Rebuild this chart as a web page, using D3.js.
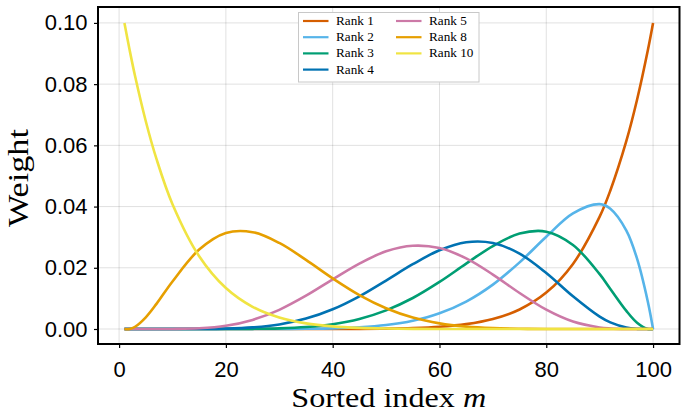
<!DOCTYPE html>
<html><head><meta charset="utf-8">
<script src="https://cdn.jsdelivr.net/npm/d3@7"></script>
<style>body{margin:0;background:#fff}</style>
</head><body><svg id="c" width="687" height="413"></svg>
<script>
// ---- data ----
const mIndex = [1,2,3,5,7,10,15,20,25,30,35,40,45,50,55,60,65,70,75,80,85,90,92,95,97,99,100];
const rank1  = [0,0,0,0,0,0,0,0,0,0.000001,0.000003,0.000012,0.000041,0.000119,0.000307,0.000726,0.001591,0.003273,0.006383,0.011885,0.021263,0.036712,0.045268,0.061448,0.074900,0.090909,0.100000];
const rank2  = [0,0,0,0,0,0,0,0.0000003,0.000003,0.000017,0.000068,0.000213,0.000562,0.001303,0.002703,0.005125,0.008949,0.014487,0.021760,0.030131,0.037770,0.040791,0.039269,0.032153,0.022981,0.009091,0];
const rank3  = [0,0,0,0,0,0,0.0000007,0.000009,0.000055,0.000217,0.000646,0.001571,0.003281,0.006081,0.010122,0.015375,0.021352,0.027105,0.031178,0.031805,0.027469,0.017908,0.013090,0.005913,0.002066,0,0];
const rank4  = [0,0,0,0,0,0.0000006,0.000017,0.000129,0.000524,0.001497,0.003392,0.006443,0.010678,0.015839,0.021158,0.025722,0.028347,0.028109,0.024606,0.018299,0.010682,0.004028,0.002156,0.000470,0.000054,0,0];
const rank5  = [0,0,0,0,0.000001,0.000019,0.000234,0.001064,0.002978,0.006269,0.010878,0.016202,0.021356,0.025378,0.027203,0.026437,0.023062,0.017788,0.011768,0.006306,0.002434,0.000504,0.000188,0.000016,0,0,0];
const rank8  = [0,0,0.000742,0.003830,0.008209,0.015535,0.025943,0.031370,0.031636,0.028110,0.022565,0.016533,0.011080,0.006787,0.003745,0.001842,0.000782,0.000276,0.000075,0.000014,0.0000015,0,0,0,0,0,0];
const rank10 = [0.100000,0.090909,0.082560,0.067878,0.055565,0.040791,0.023781,0.013392,0.007253,0.003756,0.001847,0.000854,0.000367,0.000145,0.000051,0.000016,0.000004,0,0,0,0,0,0,0,0,0,0];
const seriesNames  = ["Rank 1","Rank 2","Rank 3","Rank 4","Rank 5","Rank 8","Rank 10"];
const seriesValues = [rank1,rank2,rank3,rank4,rank5,rank8,rank10];
const seriesColors = ["#D55E00","#56B4E9","#009E73","#0072B2","#CC79A7","#E69F00","#F0E442"];
const xTicks = [0,20,40,60,80,100];
const yTicks = [0,0.02,0.04,0.06,0.08,0.10];
const xLabel = "Sorted index ";
const xLabelVar = "m";
const yLabel = "Weight";

// ---- drawing ----
const svg = d3.select("#c");
const L = 98, R = 679.5, T = 7, B = 344;
const x = d3.scaleLinear().domain([-3.95, 104.95]).range([L, R]);
const y = d3.scaleLinear().domain([-0.0049, 0.1052]).range([B, T]);
const sans = "'Liberation Sans', Arial, Helvetica, sans-serif";
const serif = "'Liberation Serif', 'Times New Roman', serif";

svg.append("rect").attr("width",687).attr("height",413).attr("fill","#fff");

// grid
const grid = svg.append("g").attr("stroke","rgba(0,0,0,0.12)").attr("stroke-width",1);
grid.selectAll(".gx").data(xTicks).enter().append("line")
  .attr("x1",d=>x(d)).attr("x2",d=>x(d)).attr("y1",T).attr("y2",B);
grid.selectAll(".gy").data(yTicks).enter().append("line")
  .attr("x1",L).attr("x2",R).attr("y1",d=>y(d)).attr("y2",d=>y(d));

// clip
svg.append("clipPath").attr("id","pc").append("rect")
  .attr("x",L).attr("y",T).attr("width",R-L).attr("height",B-T);

const line = d3.line().curve(d3.curveCatmullRom.alpha(0.5))
  .x((d,i)=>x(mIndex[i])).y(d=>y(d));
const lg = svg.append("g").attr("clip-path","url(#pc)");
seriesValues.forEach((vals,si)=>{
  lg.append("path").attr("d",line(vals)).attr("fill","none")
    .attr("stroke",seriesColors[si]).attr("stroke-width",2.6)
    .attr("stroke-linejoin","round").attr("stroke-linecap","butt");
});

// axes
const ax = svg.append("g").attr("transform",`translate(0,${B})`)
  .call(d3.axisBottom(x).tickValues(xTicks).tickFormat(d3.format("d")).tickSize(4).tickPadding(13));
const ay = svg.append("g").attr("transform",`translate(${L},0)`)
  .call(d3.axisLeft(y).tickValues(yTicks).tickFormat(d3.format(".2f")).tickSize(4).tickPadding(6.5));
[ax,ay].forEach(a=>{
  a.select(".domain").remove();
  a.selectAll(".tick line").attr("stroke","#000").attr("stroke-width",1.2);
  a.selectAll(".tick text").attr("font-family",sans).attr("font-size",22).attr("fill","#000");
});

// frame
svg.append("rect").attr("x",L).attr("y",T).attr("width",R-L).attr("height",B-T)
  .attr("fill","none").attr("stroke","#000").attr("stroke-width",2);

// axis labels
const xl = svg.append("text").attr("transform",`translate(${(L+R)/2},406.5) scale(1.15,1)`)
  .attr("text-anchor","middle").attr("font-family",serif).attr("font-size",28).attr("fill","#000");
xl.append("tspan").text(xLabel);
xl.append("tspan").attr("font-style","italic").text(xLabelVar);

svg.append("text").attr("transform",`translate(28,178) rotate(-90) scale(1.18,1)`)
  .attr("text-anchor","middle").attr("font-family",serif).attr("font-size",29).attr("fill","#000")
  .text(yLabel);

// legend
const leg = svg.append("g");
leg.append("rect").attr("x",298.5).attr("y",12.5).attr("width",180.5).attr("height",69.5)
  .attr("fill","#fff").attr("stroke","#c8c8c8").attr("stroke-width",1);
seriesNames.forEach((name,i)=>{
  const col = i < 4 ? 0 : 1;
  const row = i < 4 ? i : i-4;
  const lx = col===0 ? 303 : 396;
  const tx = col===0 ? 336 : 429;
  const ly = 21 + row*16.2;
  leg.append("line").attr("x1",lx).attr("x2",lx+25.5).attr("y1",ly).attr("y2",ly)
    .attr("stroke",seriesColors[i]).attr("stroke-width",2.2);
  leg.append("text").attr("transform",`translate(${tx},${ly+4}) scale(1.1,1)`)
    .attr("font-family",serif).attr("font-size",12).attr("fill","#000").text(name);
});
</script>
</body></html>
